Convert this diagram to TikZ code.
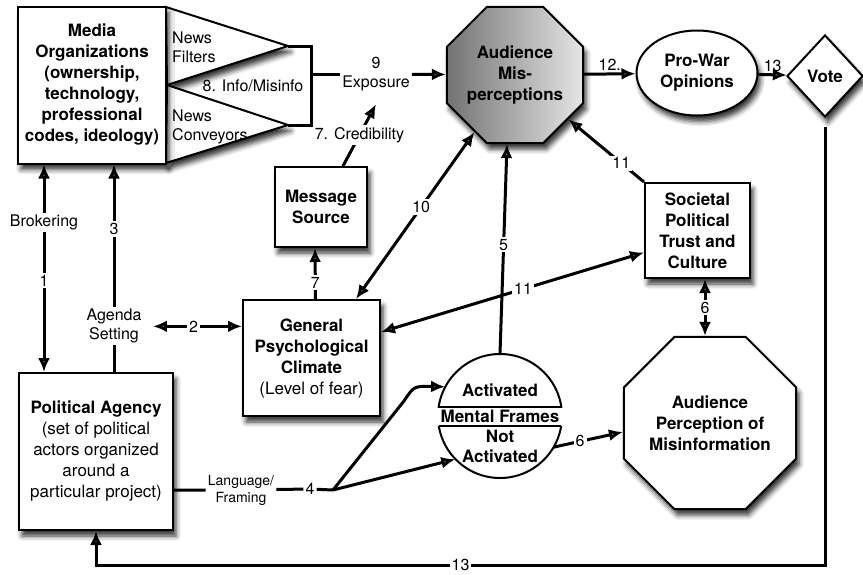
\documentclass[tikz,border=0pt]{standalone}
\usepackage{fontspec}
\setmainfont{TeX Gyre Heros}
\usetikzlibrary{arrows.meta,shapes.geometric,shadows.blur}

\newcommand\nodefont{\fontsize{17}{21}\selectfont\bfseries}
\newcommand\lblfont{\fontsize{16}{19}\selectfont}

\begin{document}
\begin{tikzpicture}[
		x=1pt, y=-1pt,
		every node/.style={align=center},
		shd/.style={blur shadow={shadow xshift=3pt,shadow yshift=-6pt,shadow blur radius=5pt,shadow opacity=80}},
		box/.style={draw, line width=2pt, fill=white, font=\nodefont, inner sep=2pt, shd},
		lbl/.style={fill=white, inner sep=2pt, font=\lblfont},
		arr/.style={-{Latex[length=14pt,width=12pt]}, line width=3pt},
		dbl/.style={{Latex[length=14pt,width=12pt]}-{Latex[length=14pt,width=12pt]}, line width=3pt}]
		\useasboundingbox (0,0) rectangle (863,574);
		
		% funnels of the media
		\coordinate (tipA) at (288,46);
		\coordinate (tipB) at (288,125);
		\coordinate (brk) at (311,74);
		\filldraw[line width=2pt, fill=white, shd] (166,7) -- (tipA) -- (167,85) -- cycle;
		\filldraw[line width=2pt, fill=white, shd] (167,85) -- (tipB) -- (166,163) -- cycle;
		\draw[line width=3pt] (tipA) -- (311,46) -- (311,125) -- (tipB);
		
		% nodes
		\node[box, minimum width=148pt, minimum height=157pt] (media) at (92,85)
		{Media\\Organizations\\(ownership,\\technology,\\professional\\codes, ideology)};
		\node[lbl, fill=none, anchor=west, align=left] (filt) at (170,47) {News\\Filters};
		\node[lbl, fill=none, anchor=west, align=left] (conv) at (170,127) {News\\Conveyors};
		\node[lbl, fill=none] (info) at (253,86) {8. Info/Misinfo};
		\node[lbl] (expo) at (376,74) {9\\Exposure};
		
		\node[draw, line width=2pt, regular polygon, regular polygon sides=8, minimum size=141pt,
		inner sep=0pt, left color=black!55, right color=black!10, font=\nodefont, shd] (am) at (515,75)
		{Audience\\Mis-\\perceptions};
		\node[box, ellipse, minimum width=121pt, minimum height=85pt, inner sep=0pt] (pw) at (697,73) {Pro-War\\Opinions};
		\node[box, diamond, minimum width=76pt, minimum height=82pt, inner sep=0pt] (vote) at (825,76) {Vote};
		
		\node[box, minimum width=92pt, minimum height=80pt] (ms) at (321,207) {Message\\Source};
		\node[box, minimum width=137pt, minimum height=116pt] (gpc) at (311.5,358)
		{General\\Psychological\\Climate\\\mdseries(Level of fear)};
		\node[box, minimum width=105pt, minimum height=95pt] (spt) at (697.5,230.5)
		{Societal\\Political\\Trust and\\Culture};
		\node[box, regular polygon, regular polygon sides=8, minimum size=162pt, inner sep=0pt] (apm) at (710,423)
		{Audience\\Perception of\\Misinformation};
		\node[box, minimum width=154pt, minimum height=157pt] (pa) at (96,451.5)
		{Political Agency\\\mdseries (set of political\\\mdseries actors organized\\\mdseries around a\\\mdseries particular project)};
		
		% mental frames
		\node[circle, minimum size=124pt, inner sep=0pt] (mf) at (500,416) {};
		\begin{scope}
			\clip (430,340) rectangle (572,407);
			\draw[line width=2pt] (mf.center) circle[radius=62];
		\end{scope}
		\begin{scope}
			\clip (430,426) rectangle (572,490);
			\draw[line width=2pt] (mf.center) circle[radius=62];
		\end{scope}
		\draw[line width=2pt] (438.7,407) -- (561.3,407);
		\draw[line width=2pt] (438.8,426) -- (561.2,426);
		\node[font=\nodefont] (act) at (500,390) {Activated};
		\node[font=\nodefont] (mfr) at (500,416) {Mental Frames};
		\node[font=\fontsize{17}{20}\selectfont\bfseries] (nact) at (500,446) {Not\\Activated};
		
		% connectors
		\draw[dbl] (media.south -| 44,0) -- node[lbl, pos=0.28] {Brokering} node[lbl, pos=0.56] {1} (pa.north -| 44,0);
		\draw[arr] (pa.north -| 114,0) -- node[lbl, pos=0.22] (agenda) {Agenda\\Setting} node[lbl, pos=0.69] {3} (media.south -| 114,0);
		\draw[dbl, shorten <=8pt] (agenda.east) -- node[lbl] {2} (agenda.east -| gpc.west);
		\draw[arr] ([xshift=4pt]gpc.north) -- node[lbl, pos=0.32] {7} ([xshift=-6pt]ms.south);
		\draw[arr] ([xshift=22pt]ms.north) -- node[lbl] {7. Credibility} ([yshift=-11pt]expo.south);
		\draw[line width=3pt] (brk) -- (expo);
		\draw[arr] (expo) -- (am);
		\draw[arr] (am) -- node[lbl, above, fill=none] {12.} (pw);
		\draw[arr] (pw) -- node[lbl, above, fill=none] {13} (vote);
		\draw[dbl] ([xshift=-25pt]gpc.north east) -- node[lbl, pos=0.55] {10} (am);
		\draw[arr] (mf.north) -- node[lbl, pos=0.52] {5} ([xshift=-8pt]am.south);
		\draw[arr] (spt.north west) -- node[lbl, pos=0.3] {11} (am);
		\draw[dbl] ([yshift=26pt]gpc.east) -- node[lbl, pos=0.54] {11} ([yshift=-22pt]spt.west);
		\draw[dbl] (spt.south -| 705,0) -- node[lbl] {6} (apm.north -| 705,0);
		\draw[arr] (mf.-30) -- node[lbl, pos=0.38] {6} ([yshift=-9pt]apm.west);
		
		% language / framing
		\node[lbl, font=\fontsize{14}{17}\selectfont] (frame) at (241,490) {Language/\\Framing};
		\node[lbl] (n4) at (310,489) {4};
		\coordinate (split) at (333,490);
		\coordinate (bend) at (404,401);
		\draw[line width=3pt] (pa.east |- frame) -- (frame) -- (n4) -- (split);
		\draw[arr] (split) -- (bend) .. controls (414,386) .. (mf.152);
		\draw[arr] (split) -- (mf.224);
		
		% back to the agency
		\coordinate (bot) at (0,565);
		\draw[arr, shorten <=9pt] (vote.south) -- (vote.south |- bot) -- node[lbl] {13} (pa.south |- bot) -- (pa.south);
\end{tikzpicture}
\end{document}
